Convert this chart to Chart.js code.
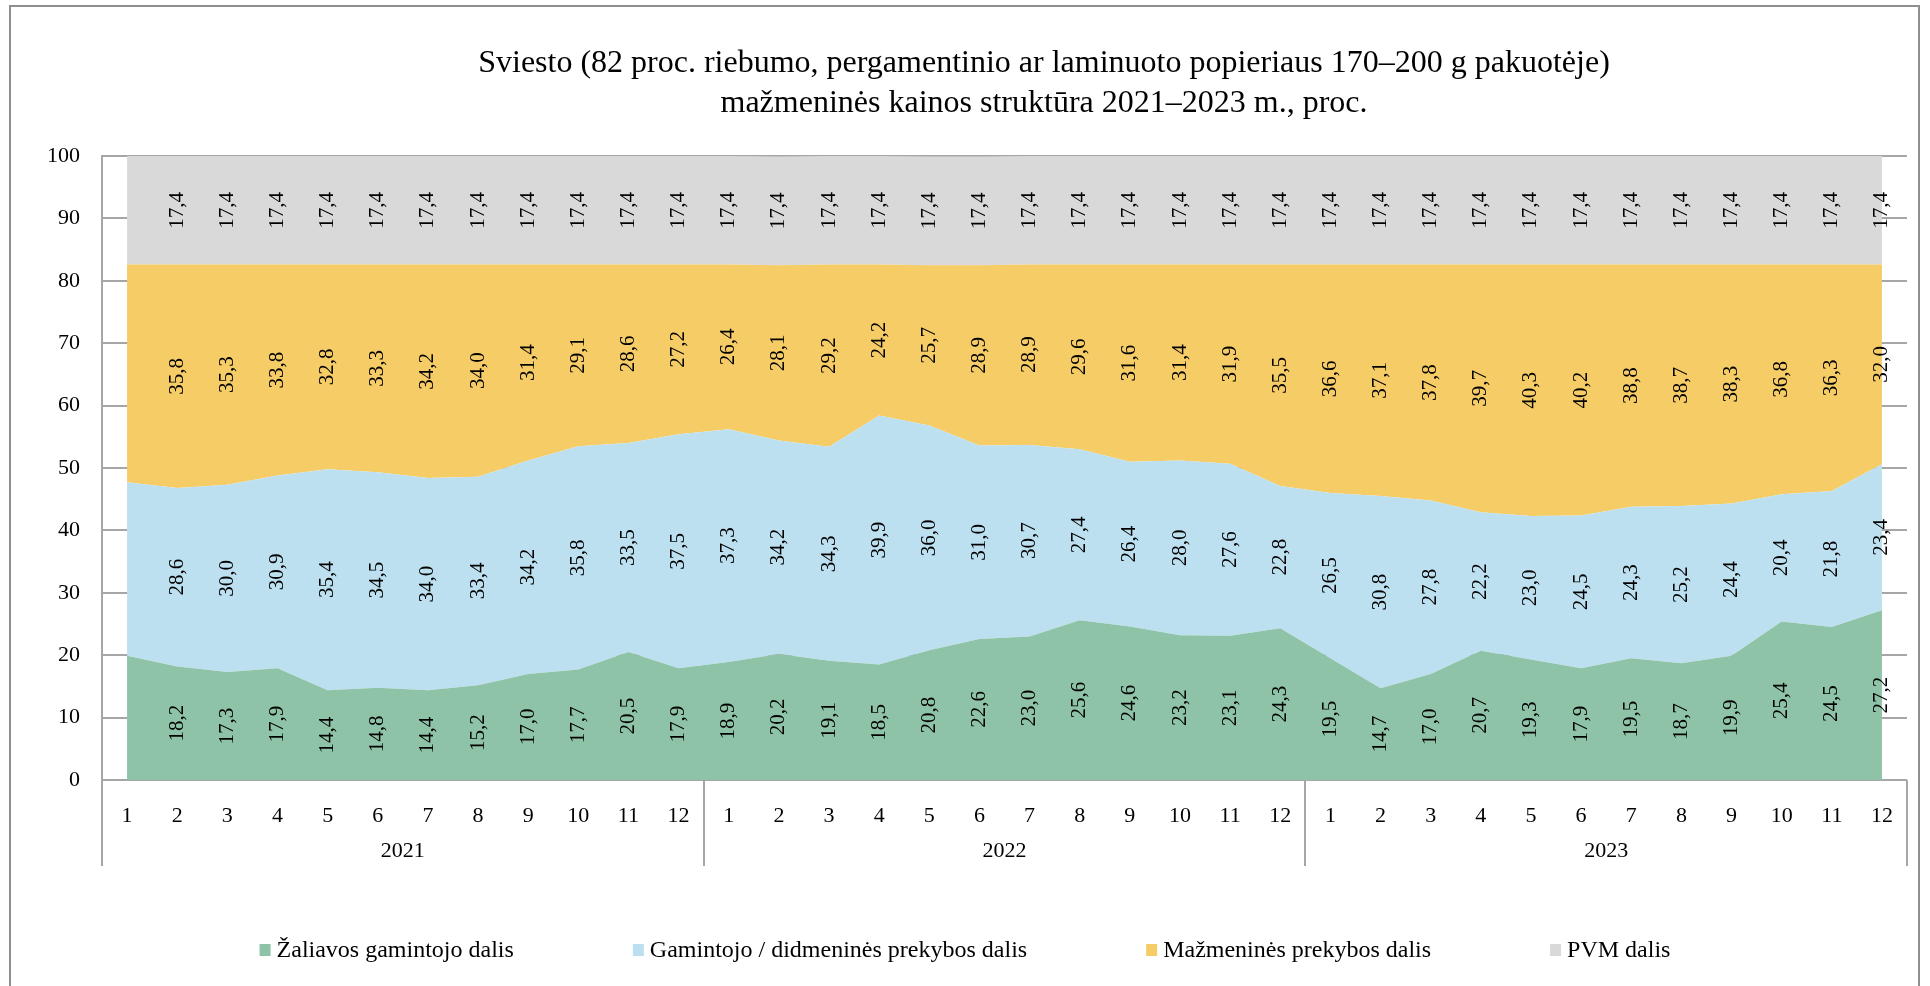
<!DOCTYPE html>
<html>
<head>
<meta charset="utf-8">
<script src="https://cdn.jsdelivr.net/npm/chart.js@4.4.1/dist/chart.umd.min.js"></script>
<style>
  html, body { margin: 0; padding: 0; background: #fff; }
  #wrap { width: 1930px; height: 986px; position: relative; }
</style>
</head>
<body>
<div id="wrap"><canvas id="priceChart"></canvas></div>
<script>
const months = ['1','2','3','4','5','6','7','8','9','10','11','12',
                '1','2','3','4','5','6','7','8','9','10','11','12',
                '1','2','3','4','5','6','7','8','9','10','11','12'];
const years = ['2021', '2022', '2023'];

const zaliava = [19.9, 18.2, 17.3, 17.9, 14.4, 14.8, 14.4, 15.2, 17.0, 17.7, 20.5, 17.9,
                 18.9, 20.2, 19.1, 18.5, 20.8, 22.6, 23.0, 25.6, 24.6, 23.2, 23.1, 24.3,
                 19.5, 14.7, 17.0, 20.7, 19.3, 17.9, 19.5, 18.7, 19.9, 25.4, 24.5, 27.2];
const gamintojas = [27.8, 28.6, 30.0, 30.9, 35.4, 34.5, 34.0, 33.4, 34.2, 35.8, 33.5, 37.5,
                    37.3, 34.2, 34.3, 39.9, 36.0, 31.0, 30.7, 27.4, 26.4, 28.0, 27.6, 22.8,
                    26.5, 30.8, 27.8, 22.2, 23.0, 24.5, 24.3, 25.2, 24.4, 20.4, 21.8, 23.4];
const mazmena = [34.9, 35.8, 35.3, 33.8, 32.8, 33.3, 34.2, 34.0, 31.4, 29.1, 28.6, 27.2,
                 26.4, 28.1, 29.2, 24.2, 25.7, 28.9, 28.9, 29.6, 31.6, 31.4, 31.9, 35.5,
                 36.6, 37.1, 37.8, 39.7, 40.3, 40.2, 38.8, 38.7, 38.3, 36.8, 36.3, 32.0];
const pvm = [17.4, 17.4, 17.4, 17.4, 17.4, 17.4, 17.4, 17.4, 17.4, 17.4, 17.4, 17.4,
             17.4, 17.4, 17.4, 17.4, 17.4, 17.4, 17.4, 17.4, 17.4, 17.4, 17.4, 17.4,
             17.4, 17.4, 17.4, 17.4, 17.4, 17.4, 17.4, 17.4, 17.4, 17.4, 17.4, 17.4];
const noLabelAt = [0];

const titleLines = ['Sviesto (82 proc. riebumo, pergamentinio ar laminuoto popieriaus 170–200 g pakuotėje)',
                    'mažmeninės kainos struktūra 2021–2023 m., proc.'];

const FONT = "'Liberation Serif', 'Times New Roman', serif";
const GRID = '#a6a6a6';

// frame around the whole picture
const framePlugin = {
    id: 'frame',
    beforeDraw(chart) {
        const ctx = chart.ctx;
        ctx.save();
        ctx.strokeStyle = '#8f8f8f';
        ctx.lineWidth = 2;
        ctx.strokeRect(10, 6, 1909, 1000);
        ctx.restore();
    }
};

// two-line title
const titlePlugin = {
    id: 'twoLineTitle',
    afterDraw(chart) {
        const ctx = chart.ctx;
        ctx.save();
        ctx.font = '32px ' + FONT;
        ctx.fillStyle = '#000';
        ctx.textAlign = 'center';
        ctx.textBaseline = 'alphabetic';
        ctx.fillText(titleLines[0], 1044, 72);
        ctx.fillText(titleLines[1], 1044, 112);
        ctx.restore();
    }
};

// values written vertically in the middle of each band
const bandLabels = {
    id: 'bandLabels',
    afterDatasetsDraw(chart) {
        const ctx = chart.ctx;
        const y = chart.scales.y;
        ctx.save();
        ctx.font = '21px ' + FONT;
        ctx.fillStyle = '#000';
        ctx.textAlign = 'center';
        ctx.textBaseline = 'middle';
        const n = chart.data.labels.length;
        for (let i = 0; i < n; i++) {
            if (noLabelAt.includes(i)) continue;
            let base = 0;
            chart.data.datasets.forEach((ds, d) => {
                const v = ds.data[i];
                const pt = chart.getDatasetMeta(d).data[i];
                const py = y.getPixelForValue(base + v / 2);
                base += v;
                ctx.save();
                ctx.translate(pt.x, py);
                ctx.rotate(-Math.PI / 2);
                ctx.fillText(v.toFixed(1).replace('.', ','), 0, 0);
                ctx.restore();
            });
        }
        ctx.restore();
    }
};

// year row below month labels, with separators
const yearGroups = {
    id: 'yearGroups',
    afterDraw(chart) {
        const ctx = chart.ctx;
        const x = chart.scales.x;
        const top = chart.chartArea.bottom;
        const step = x.getPixelForValue(1) - x.getPixelForValue(0);
        ctx.save();
        ctx.strokeStyle = GRID;
        ctx.lineWidth = 2;
        for (let g = 0; g <= years.length; g++) {
            const px = Math.round(x.getPixelForValue(g * 12) - step / 2);
            ctx.beginPath();
            ctx.moveTo(px, top);
            ctx.lineTo(px, top + 86);
            ctx.stroke();
        }
        ctx.font = '22px ' + FONT;
        ctx.fillStyle = '#000';
        ctx.textAlign = 'center';
        ctx.textBaseline = 'middle';
        years.forEach((yr, g) => {
            const cx = (x.getPixelForValue(g * 12) + x.getPixelForValue(g * 12 + 11)) / 2;
            ctx.fillText(yr, cx, top + 71);
        });
        ctx.restore();
    }
};

// legend in one row
const legendRow = {
    id: 'legendRow',
    afterDraw(chart) {
        const ctx = chart.ctx;
        ctx.save();
        ctx.font = '24px ' + FONT;
        const items = chart.data.datasets.map(ds => ({
            text: ds.label, color: ds.backgroundColor, w: 11 + 6 + ctx.measureText(ds.label).width
        }));
        const gap = 119;
        const total = items.reduce((s, it) => s + it.w, 0) + gap * (items.length - 1);
        let cx = 965 - total / 2;
        const cy = 950;
        ctx.textBaseline = 'alphabetic';
        ctx.fillStyle = '#000';
        items.forEach(it => {
            ctx.fillStyle = it.color;
            ctx.fillRect(cx, cy - 6, 11, 12);
            ctx.fillStyle = '#000';
            ctx.fillText(it.text, cx + 17, cy + 7);
            cx += it.w + gap;
        });
        ctx.restore();
    }
};

function area(label, data, color, fill) {
    return {
        label: label,
        data: data,
        backgroundColor: color,
        borderColor: color,
        borderWidth: 0,
        pointRadius: 0,
        pointHoverRadius: 0,
        tension: 0,
        fill: fill
    };
}

const ctx = document.getElementById('priceChart').getContext('2d');
new Chart(ctx, {
    type: 'line',
    data: {
        labels: months,
        datasets: [
            area('Žaliavos gamintojo dalis', zaliava, '#8fc3a7', 'origin'),
            area('Gamintojo / didmeninės prekybos dalis', gamintojas, '#bde0f0', '-1'),
            area('Mažmeninės prekybos dalis', mazmena, '#f5cc66', '-1'),
            area('PVM dalis', pvm, '#d9d9d9', '-1')
        ]
    },
    options: {
        responsive: true,
        maintainAspectRatio: false,
        animation: false,
        layout: { padding: { left: 0, right: 23, top: 156, bottom: 0 } },
        plugins: {
            legend: { display: false },
            title: { display: false },
            tooltip: { enabled: false }
        },
        scales: {
            x: {
                offset: true,
                grid: { display: false },
                border: { display: false },
                ticks: {
                    font: { family: FONT, size: 22 },
                    color: '#000',
                    padding: 15,
                    maxRotation: 0,
                    autoSkip: false
                },
                afterFit(scale) { scale.height = 206; }
            },
            y: {
                stacked: true,
                min: 0,
                max: 100,
                grid: { color: GRID, lineWidth: 2, drawTicks: false },
                border: { display: true, color: GRID, width: 2 },
                ticks: {
                    stepSize: 10,
                    font: { family: FONT, size: 22 },
                    color: '#000',
                    padding: 22
                },
                afterFit(scale) { scale.width = 102; }
            }
        }
    },
    plugins: [framePlugin, bandLabels, yearGroups, titlePlugin, legendRow]
});
</script>
</body>
</html>
